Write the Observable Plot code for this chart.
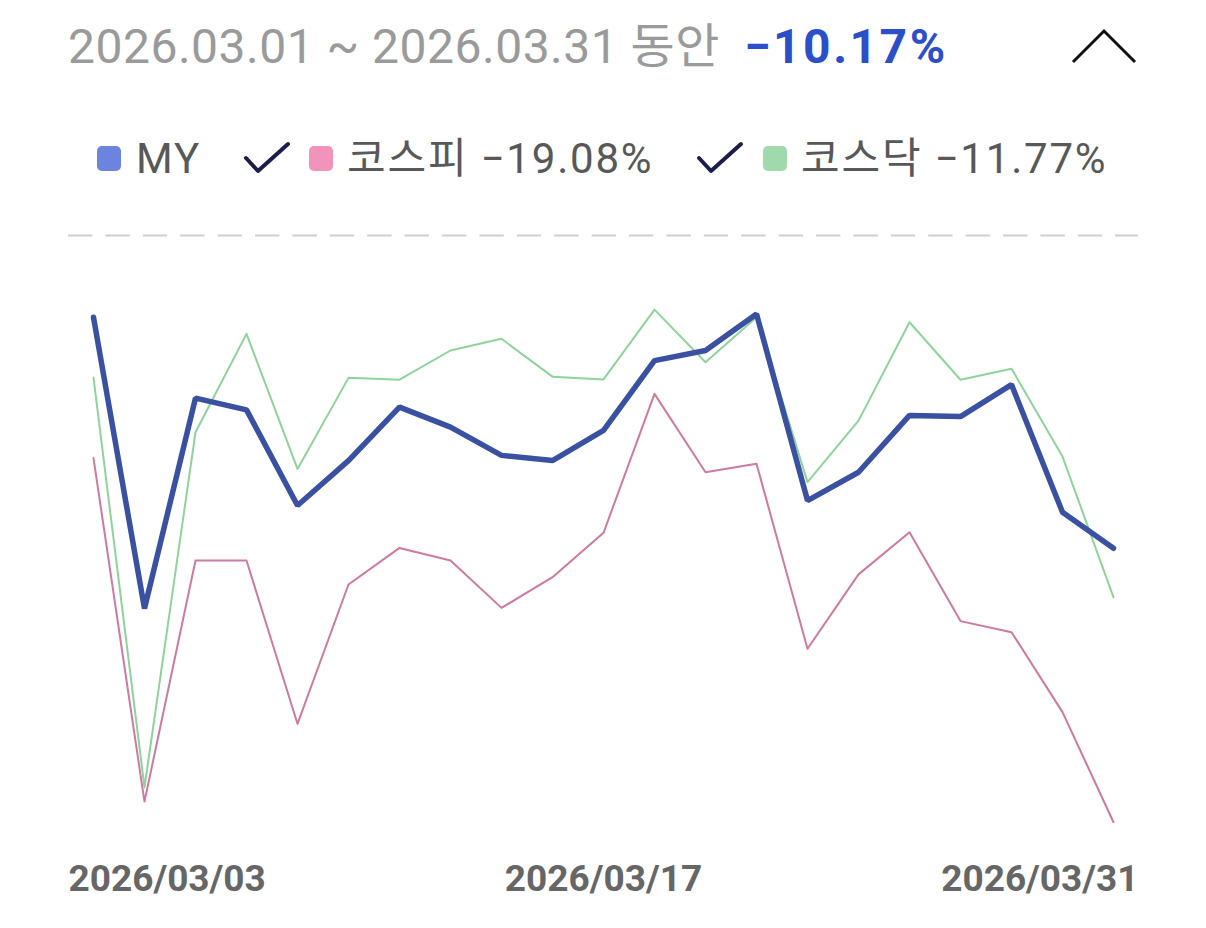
<!DOCTYPE html>
<html>
<head>
<meta charset="utf-8">
<script src="https://cdn.jsdelivr.net/npm/d3@7"></script>
<script src="https://cdn.jsdelivr.net/npm/@observablehq/plot@0.6"></script>
<style>
  html, body { margin: 0; padding: 0; background: #fff; }
  body { width: 1206px; height: 928px; overflow: hidden; font-family: Roboto, "Noto Sans CJK KR", sans-serif; }
  #head { position: relative; width: 1206px; height: 200px; }
  .abs { position: absolute; white-space: nowrap; line-height: 1; }
  .lg { font-size: 42px; color: #585858; letter-spacing: 1.8px; }
  .sq { position: absolute; width: 24px; height: 25px; border-radius: 5px; }
</style>
</head>
<body>
<div id="head">
  <div class="abs" style="left:68px; top:23px; font-size:48px; color:#9a9a9a; letter-spacing:0.5px;">2026.03.01 ~ 2026.03.31 동안<span style="margin-left:24px; color:#2b4fc8; font-weight:700; letter-spacing:2.5px;">−10.17%</span></div>
  <svg style="position:absolute; left:1068px; top:26px;" width="74" height="42"><polyline points="5,36 36,5 67,36" fill="none" stroke="#111" stroke-width="3"/></svg>

  <div class="sq" style="left:97px; top:146px; background:#6a84e0;"></div>
  <div class="abs lg" style="left:136px; top:138px;">MY</div>

  <svg style="position:absolute; left:240px; top:138px;" width="54" height="40"><polyline points="6,20 18,33 48,6" fill="none" stroke="#1c1d48" stroke-width="4" stroke-linecap="round" stroke-linejoin="round"/></svg>
  <div class="sq" style="left:309px; top:146px; background:#f293bb;"></div>
  <div class="abs lg" style="left:347px; top:138px;">코스피 −19.08%</div>

  <svg style="position:absolute; left:693px; top:138px;" width="54" height="40"><polyline points="6,20 18,33 48,6" fill="none" stroke="#1c1d48" stroke-width="4" stroke-linecap="round" stroke-linejoin="round"/></svg>
  <div class="sq" style="left:763px; top:146px; background:#a0d9ab;"></div>
  <div class="abs lg" style="left:801px; top:138px;">코스닥 −11.77%</div>
</div>
<div id="chart"></div>
<script>
// Trading days, March 2026
const dates = ["2026/03/03","2026/03/04","2026/03/05","2026/03/06","2026/03/09","2026/03/10","2026/03/11","2026/03/12","2026/03/13","2026/03/16","2026/03/17","2026/03/18","2026/03/19","2026/03/20","2026/03/23","2026/03/24","2026/03/25","2026/03/26","2026/03/27","2026/03/30","2026/03/31"];
// Cumulative return (%) since period start
const myReturn     = [-2.66,-12.13,-5.29,-5.67,-8.78,-7.32,-5.58,-6.23,-7.15,-7.32,-6.34,-4.07,-3.74,-2.55,-8.62,-7.70,-5.85,-5.89,-4.85,-9.00,-10.17];
const kospiReturn  = [-7.24,-18.41,-10.57,-10.57,-15.88,-11.35,-10.16,-10.57,-12.11,-11.11,-9.67,-5.15,-7.70,-7.42,-13.44,-11.02,-9.65,-12.54,-12.90,-15.50,-19.08];
const kosdaqReturn = [-4.62,-17.95,-6.40,-3.20,-7.59,-4.63,-4.69,-3.74,-3.36,-4.59,-4.68,-2.41,-4.12,-2.66,-8.02,-6.02,-2.82,-4.69,-4.33,-7.19,-11.77];
const tickLabels = ["2026/03/03","2026/03/17","2026/03/31"];

const toRows = (vals) => dates.map((d, i) => ({date: d, value: vals[i]}));
const my = toRows(myReturn), kospi = toRows(kospiReturn), kosdaq = toRows(kosdaqReturn);

const labelStyle = {fontSize: 37, fontWeight: 700, fill: "#666", lineAnchor: "bottom", dy: 40, fontFamily: "Roboto, sans-serif"};

const chart = Plot.plot({
  width: 1206,
  height: 728,
  marginTop: 35,
  marginBottom: 78,
  marginLeft: 68,
  marginRight: 68,
  x: {type: "point", domain: dates, padding: 0.49, round: false, axis: null},
  y: {domain: [-20, 0], axis: null},
  marks: [
    Plot.ruleY([0], {stroke: "#cfcfcf", strokeWidth: 2, strokeDasharray: "24.4,13"}),
    Plot.line(kospi, {x: "date", y: "value", stroke: "#cc7aa0", strokeWidth: 2}),
    Plot.line(kosdaq, {x: "date", y: "value", stroke: "#8fd39c", strokeWidth: 2}),
    Plot.line(my, {x: "date", y: "value", stroke: "#3a50a0", strokeWidth: 5.5, strokeLinejoin: "miter"}),
    Plot.text([tickLabels[0]], {text: d => d, frameAnchor: "bottom-left", textAnchor: "start", ...labelStyle}),
    Plot.text([tickLabels[1]], {x: d => d, text: d => d, frameAnchor: "bottom", textAnchor: "middle", ...labelStyle}),
    Plot.text([tickLabels[2]], {text: d => d, frameAnchor: "bottom-right", textAnchor: "end", ...labelStyle})
  ]
});
document.getElementById("chart").appendChild(chart);
</script>
</body>
</html>
